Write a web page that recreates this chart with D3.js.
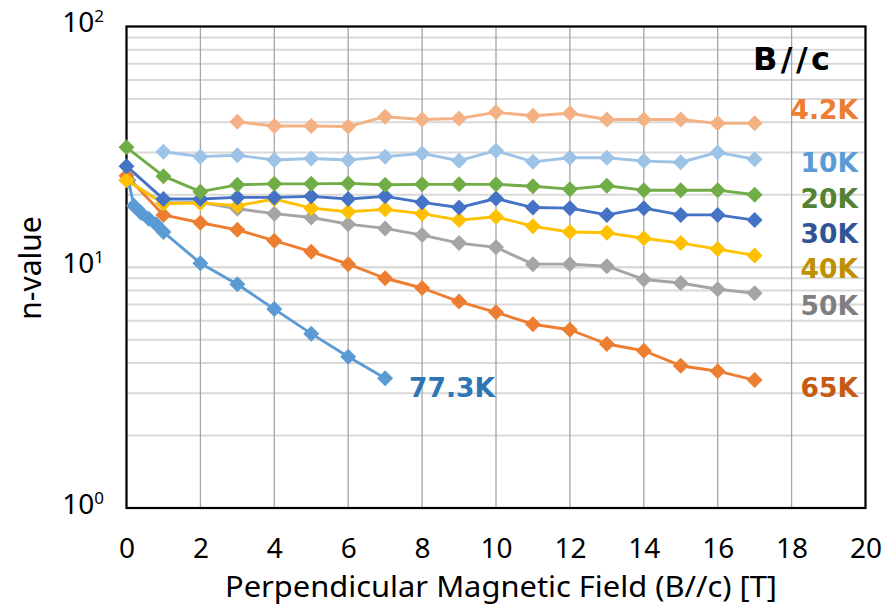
<!DOCTYPE html>
<html><head><meta charset="utf-8">
<script src="https://cdn.jsdelivr.net/npm/d3@7"></script>
<style>body{margin:0;background:#fff}svg{display:block}</style>
</head><body>
<svg id="c" width="896" height="605"></svg>
<script>
const xTicks = [0,2,4,6,8,10,12,14,16,18,20];
const yTickExps = [0,1,2];
const seriesNames = ["4.2K","10K","20K","30K","40K","50K","65K","77.3K"];
const lineColors = ["#F4B183","#9DC3E6","#70AD47","#4472C4","#FFC000","#A5A5A5","#ED7D31","#5B9BD5"];
const labelColors = ["#ED7D31","#5B9BD5","#548235","#2F5597","#BF9000","#7F7F7F","#C55A11","#2E75B6"];

const x42 = [3,4,5,6,7,8,9,10,11,12,13,14,15,16,17];
const y42 = [40.2,38.6,38.6,38.4,42.2,41.1,41.5,44.0,42.6,43.6,41.1,41.1,41.1,39.6,39.6];
const x10 = [1,2,3,4,5,6,7,8,9,10,11,12,13,14,15,16,17];
const y10 = [30.2,28.8,29.2,27.9,28.3,27.9,28.8,29.7,27.7,30.5,27.4,28.5,28.5,27.6,27.3,30.0,28.1];
const xFull = [0,1,2,3,4,5,6,7,8,9,10,11,12,13,14,15,16,17];
const y20 = [31.5,23.9,20.6,22.0,22.2,22.2,22.3,22.0,22.1,22.1,22.1,21.7,21.1,21.8,20.9,20.9,20.9,20.0];
const y30 = [26.3,19.2,19.2,19.5,19.5,19.7,19.2,19.7,18.6,17.7,19.3,17.7,17.6,16.5,17.6,16.5,16.5,15.7];
const y40 = [23.0,18.4,18.5,18.0,19.2,17.6,17.0,17.4,16.7,15.7,16.2,14.8,14.0,13.9,13.2,12.6,11.9,11.2];
const y50 = [23.0,18.5,18.6,17.5,16.7,16.1,15.1,14.5,13.6,12.6,12.1,10.3,10.3,10.1,8.9,8.6,8.1,7.8];
const y65 = [24.0,16.5,15.3,14.3,12.9,11.6,10.3,9.0,8.2,7.2,6.5,5.8,5.5,4.8,4.5,3.9,3.7,3.4];
const x77 = [0.05,0.2,0.4,0.6,0.8,1.0,2,3,4,5,6,7];
const y77 = [23.0,18.0,16.8,15.9,15.1,14.0,10.4,8.5,6.7,5.3,4.25,3.46];

const xs = [x42,x10,xFull,xFull,xFull,xFull,xFull,x77];
const ys = [y42,y10,y20,y30,y40,y50,y65,y77];

const L=126.5, R=865.5, T=26.5, B=508;
const svg = d3.select("#c");
const x = d3.scaleLinear().domain([0,20]).range([L,R]);
const y = d3.scaleLog().domain([1,100]).range([B,T]);

// horizontal minor gridlines
const minor = [];
for (let e=0;e<2;e++) for (let m=1;m<=10;m++) minor.push(m*Math.pow(10,e));
svg.append("g").selectAll("line").data(minor).join("line")
  .attr("x1",L).attr("x2",R).attr("y1",d=>y(d)).attr("y2",d=>y(d))
  .attr("stroke","#D9D9D9").attr("stroke-width",2);
// vertical gridlines
svg.append("g").selectAll("line").data(xTicks).join("line")
  .attr("x1",d=>x(d)).attr("x2",d=>x(d)).attr("y1",T).attr("y2",B)
  .attr("stroke","#A6A6A6").attr("stroke-width",1.3);

// frame
svg.append("rect").attr("x",L).attr("y",T).attr("width",R-L).attr("height",B-T)
  .attr("fill","none").attr("stroke","#000").attr("stroke-width",2.2);

// x axis labels
const xAxis = d3.axisBottom(x).tickValues(xTicks).tickSize(0).tickPadding(0);
const gx = svg.append("g").attr("transform",`translate(0,${B})`).call(xAxis);
gx.select(".domain").remove();
gx.selectAll("text").attr("font-family","'Noto Sans'").attr("font-size",28)
  .attr("fill","#000").attr("dy",null).attr("y",49.5);

// y axis labels with superscripts
const gy = svg.append("g");
yTickExps.forEach(e=>{
  const t = gy.append("text").attr("x",104).attr("y",y(Math.pow(10,e))+5.5)
    .attr("text-anchor","end").attr("font-family","'Noto Sans'").attr("font-size",28).attr("fill","#000");
  t.append("tspan").text("10");
  t.append("tspan").attr("font-size",17).attr("dy",-10).text(String(e));
});

// axis titles
svg.append("text").attr("x",(L+R)/2+5).attr("y",596.5).attr("text-anchor","middle")
  .attr("font-family","'Noto Sans'").attr("font-size",29).attr("fill","#000")
  .attr("textLength",552).attr("lengthAdjust","spacingAndGlyphs")
  .text("Perpendicular Magnetic Field (B//c) [T]");
svg.append("text").attr("transform","translate(41,268) rotate(-90)").attr("text-anchor","middle")
  .attr("font-family","'Noto Sans'").attr("font-size",30).attr("fill","#000").text("n-value");

// series, drawn in reverse order
const line = d3.line().x(d=>x(d[0])).y(d=>y(d[1]));
const diamond = "M0,-8L8,0L0,8L-8,0Z";
for (let i=seriesNames.length-1;i>=0;i--){
  const pts = xs[i].map((v,j)=>[v,ys[i][j]]);
  const g = svg.append("g");
  g.append("path").datum(pts).attr("d",line).attr("fill","none")
    .attr("stroke",lineColors[i]).attr("stroke-width",2.9).attr("stroke-linejoin","round");
  g.selectAll("path.m").data(pts).join("path").attr("class","m")
    .attr("transform",d=>`translate(${x(d[0])},${y(d[1])})`).attr("d",diamond)
    .attr("fill",lineColors[i]);
}

// labels
const lab = svg.append("g").attr("font-family","'DejaVu Sans'").attr("font-weight","bold").attr("font-size",26.5);
lab.append("text").attr("x",753).attr("y",70).attr("font-size",32)
  .attr("textLength",77).attr("lengthAdjust","spacing").attr("fill","#000").text("B//c");
const labBase = [119,171.5,208,242.7,278.3,315,397];
for (let i=0;i<7;i++){
  lab.append("text").attr("x",858).attr("y",labBase[i]).attr("text-anchor","end")
    .attr("fill",labelColors[i]).text(seriesNames[i]);
}
lab.append("text").attr("x",409).attr("y",396.7).attr("fill",labelColors[7]).text(seriesNames[7]);
</script>
</body></html>
